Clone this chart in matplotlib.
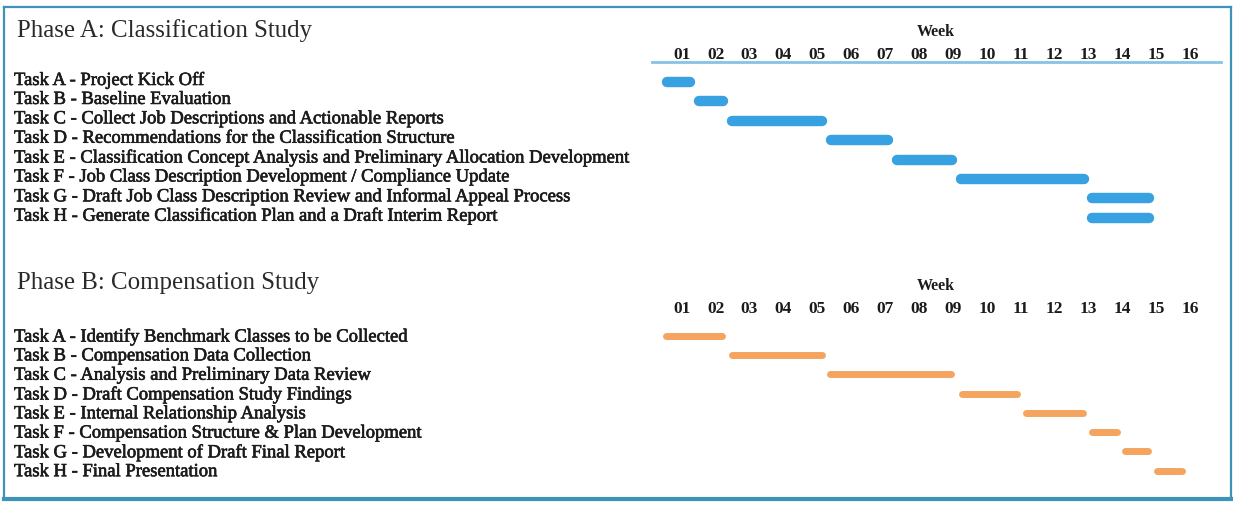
import matplotlib
matplotlib.use("Agg")
import matplotlib.pyplot as plt
import matplotlib.patheffects as pe
from matplotlib.lines import Line2D
from matplotlib.transforms import blended_transform_factory

# schedule, in week units (label "01" sits at x = 1)
weeks = ["01", "02", "03", "04", "05", "06", "07", "08",
         "09", "10", "11", "12", "13", "14", "15", "16"]

tasks_a = [
    "Task A - Project Kick Off",
    "Task B - Baseline Evaluation",
    "Task C - Collect Job Descriptions and Actionable Reports",
    "Task D - Recommendations for the Classification Structure",
    "Task E - Classification Concept Analysis and Preliminary Allocation Development",
    "Task F - Job Class Description Development / Compliance Update",
    "Task G - Draft Job Class Description Review and Informal Appeal Process",
    "Task H - Generate Classification Plan and a Draft Interim Report",
]
start_a = [0.41, 1.36, 2.33, 5.25, 7.19, 9.09, 12.96, 12.96]
end_a = [1.41, 2.36, 5.28, 7.24, 9.14, 13.01, 14.93, 14.93]

tasks_b = [
    "Task A - Identify Benchmark Classes to be Collected",
    "Task B - Compensation Data Collection",
    "Task C - Analysis and Preliminary Data Review",
    "Task D - Draft Compensation Study Findings",
    "Task E - Internal Relationship Analysis",
    "Task F - Compensation Structure & Plan Development",
    "Task G - Development of Draft Final Report",
    "Task H - Final Presentation",
]
start_b = [0.44, 2.37, 5.28, 9.16, 11.06, 13.00, 13.98, 14.91]
end_b = [2.28, 5.23, 9.04, 11.00, 12.95, 13.93, 14.86, 15.85]

W, H = 1233, 506
plt.rcParams['font.family'] = ['Liberation Serif', 'DejaVu Serif']
fig = plt.figure(figsize=(W / 100, H / 100), dpi=100)

TXT = '#1b1b1b'
BLUE = '#38a1e1'
ORANGE = '#f4a45e'
WEEK_PX = 33.9
heavy = [pe.withStroke(linewidth=0.45, foreground=TXT)]


def px_axes(x0, y0, x1, y1):
    return fig.add_axes([x0 / W, 1 - y1 / H, (x1 - x0) / W, (y1 - y0) / H])


def phase(ax, title, title_y, tasks, starts, ends, color, lw, row0_px, row_px,
          top_px, bot_px, line, text_dy):
    ax.set_xlim(1 + (651.7 - 681.7) / WEEK_PX, 1 + (1220.7 - 681.7) / WEEK_PX)
    ax.set_ylim((bot_px - row0_px) / row_px, (top_px - row0_px) / row_px)
    ax.set_facecolor('none')
    for s in ['left', 'right', 'bottom']:
        ax.spines[s].set_visible(False)
    ax.spines['top'].set_visible(line)
    ax.spines['top'].set_color('#86c3e6')
    ax.spines['top'].set_linewidth(2)
    ax.set_yticks([])
    ax.xaxis.tick_top()
    ax.set_xticks(range(1, 17))
    ax.set_xticklabels(weeks, fontsize=12.5, fontweight='bold', color=TXT)
    ax.tick_params(axis='x', length=0, pad=0)
    ax.xaxis.set_label_position('top')
    ax.set_xlabel('Week', fontsize=11.5, fontweight='bold', color=TXT, labelpad=8)

    # round caps stick out by half the line width; pull the ends in so the
    # drawn bar covers start..end
    cap = (lw / 72 * 100) / 2 / WEEK_PX
    for i, (s, e) in enumerate(zip(starts, ends)):
        ax.plot([s + cap, e - cap], [i, i], color=color, lw=lw,
                solid_capstyle='round')

    tr = blended_transform_factory(fig.transFigure, ax.transData)
    for i, t in enumerate(tasks):
        ax.text(14 / W, i + text_dy, t, transform=tr, fontsize=13.4, color=TXT,
                va='center', ha='left', clip_on=False, path_effects=heavy)
    fig.text(17 / W, 1 - title_y / H, title, fontsize=17.9, color='#2a2a2a',
             va='center', ha='left')


ax_a = px_axes(651.7, 63.3, 1220.7, 235)
phase(ax_a, 'Phase A: Classification Study', 31, tasks_a, start_a, end_a,
      BLUE, 7.5, 83, 19.39, 63.3, 235, True, -0.1)

ax_b = px_axes(651.7, 317.3, 1220.7, 490)
phase(ax_b, 'Phase B: Compensation Study', 283, tasks_b, start_b, end_b,
      ORANGE, 5, 336.7, 19.29, 317.3, 490, False, 0.05)

# frame around the whole sheet
frame = '#3d94b7'
fig.add_artist(Line2D([4 / W, 1231 / W], [1 - 8 / H, 1 - 8 / H], color=frame, lw=1.6))
fig.add_artist(Line2D([4 / W, 1231 / W], [1 - 500 / H, 1 - 500 / H], color=frame, lw=3))
fig.add_artist(Line2D([4 / W, 4 / W], [1 - 8 / H, 1 - 500 / H], color=frame, lw=1.6))
fig.add_artist(Line2D([1231 / W, 1231 / W], [1 - 8 / H, 1 - 500 / H], color=frame, lw=1.6))

fig.savefig('out.png', dpi=100)
